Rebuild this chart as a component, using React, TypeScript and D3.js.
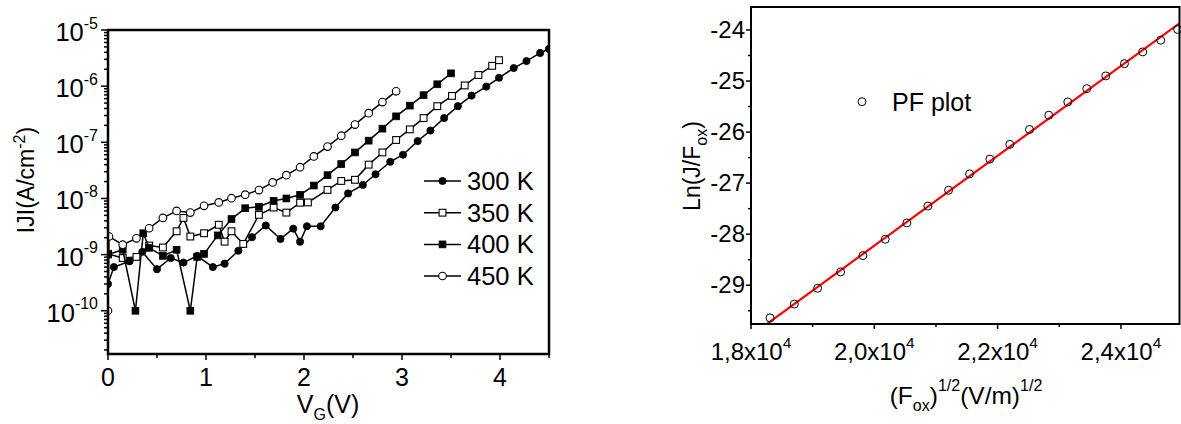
import React from 'react';
import * as d3 from 'd3';

const FONT = '"Liberation Sans", Arial, Helvetica, sans-serif';

// ---- Left panel: |J| vs V_G at four temperatures ----
const V_300 = [0.00,0.06,0.22,0.35,0.50,0.64,0.77,0.91,1.07,1.19,1.33,1.47,1.61,1.76,1.89,1.96,2.03,2.17,2.32,2.45,2.60,2.73,2.88,3.01,3.16,3.29,3.43,3.57,3.71,3.86,3.99,4.14,4.27,4.41,4.50];
const J_300 = [3.0e-10,6.0e-10,7.6e-10,1.12e-9,5.5e-10,8.7e-10,7.2e-10,9.5e-10,6.0e-10,6.9e-10,1.17e-9,2.04e-9,3.3e-9,1.9e-9,2.9e-9,1.7e-9,3.2e-9,3.2e-9,6.9e-9,1.23e-8,1.74e-8,2.7e-8,4.5e-8,6.0e-8,1.05e-7,1.62e-7,2.7e-7,4.4e-7,6.8e-7,9.8e-7,1.41e-6,2.1e-6,2.8e-6,3.9e-6,4.6e-6];

const V_350 = [0.00,0.15,0.29,0.42,0.56,0.70,0.77,0.84,0.98,1.13,1.19,1.26,1.38,1.54,1.69,1.82,1.96,2.04,2.24,2.38,2.52,2.66,2.80,2.94,3.08,3.22,3.36,3.51,3.64,3.78,3.92,3.99];
const J_350 = [1.03e-9,8.7e-10,9.1e-10,1.45e-9,1.34e-9,2.6e-9,4.5e-9,2.1e-9,2.4e-9,3.4e-9,1.7e-9,2.6e-9,1.55e-9,5.1e-9,6.9e-9,5.6e-9,8.4e-9,8.5e-9,1.42e-8,2.05e-8,2.15e-8,4.0e-8,6.6e-8,1.10e-7,1.70e-7,2.7e-7,4.4e-7,6.7e-7,1.03e-6,1.58e-6,2.3e-6,2.9e-6];

const V_400 = [0.00,0.15,0.28,0.36,0.42,0.56,0.70,0.84,0.91,0.98,1.12,1.26,1.40,1.54,1.69,1.82,1.96,2.10,2.24,2.38,2.52,2.66,2.80,2.94,3.08,3.22,3.36,3.50];
const J_400 = [1.0e-9,1.22e-9,1.0e-10,2.4e-9,1.32e-9,9.5e-10,1.22e-9,1.0e-10,9.1e-10,1.03e-9,2.2e-9,4.3e-9,6.7e-9,7.1e-9,9.1e-9,1.0e-8,1.16e-8,1.70e-8,2.6e-8,4.1e-8,6.6e-8,1.07e-7,1.75e-7,2.9e-7,4.5e-7,6.9e-7,1.08e-6,1.69e-6];

const V_450 = [0.00,0.01,0.15,0.29,0.42,0.56,0.70,0.84,0.98,1.13,1.26,1.40,1.54,1.68,1.82,1.96,2.10,2.24,2.38,2.52,2.66,2.80,2.94];
const J_450 = [1.0e-10,2.1e-9,1.5e-9,1.95e-9,2.95e-9,4.5e-9,6.0e-9,5.6e-9,7.4e-9,8.5e-9,1.01e-8,1.17e-8,1.41e-8,1.93e-8,2.6e-8,3.6e-8,5.6e-8,8.4e-8,1.31e-7,2.07e-7,3.3e-7,5.2e-7,8.1e-7];

const LEGEND_LABELS = ['300 K', '350 K', '400 K', '450 K'];
const X_TICKS_L = [0, 1, 2, 3, 4];
const X_MINOR_L = [0.5, 1.5, 2.5, 3.5, 4.5];
const Y_EXP_L = [-10, -9, -8, -7, -6, -5];

// ---- Right panel: Poole-Frenkel plot ----
const F_SQRT = [18308,18702,19081,19454,19815,20177,20528,20869,21204,21545,21874,22198,22517,22830,23138,23446,23754,24057,24353,24645,24920];
const LN_JF = [-29.64,-29.37,-29.06,-28.74,-28.42,-28.10,-27.78,-27.45,-27.14,-26.82,-26.53,-26.24,-25.95,-25.67,-25.41,-25.15,-24.90,-24.66,-24.43,-24.20,-23.99];
const FIT_X = [18200, 24960];
const FIT_Y = [-29.81, -23.86];
const X_TICKS_R = [18000, 20000, 22000, 24000];
const X_MINOR_R = [19000, 21000, 23000, 25000];
const Y_TICKS_R = [-29, -28, -27, -26, -25, -24];
const Y_MINOR_R = [-29.5, -28.5, -27.5, -26.5, -25.5, -24.5];

type Pt = [number, number];
const zip = (a: number[], b: number[]): Pt[] => a.map((v, i) => [v, b[i]] as Pt);

function Marker({ type, x, y }: { type: string; x: number; y: number }) {
  if (type === 'fcircle') return <circle cx={x} cy={y} r={3.6} fill="#000" stroke="#000" strokeWidth={0.8} />;
  if (type === 'ocircle') return <circle cx={x} cy={y} r={3.8} fill="#fff" stroke="#000" strokeWidth={1.1} />;
  if (type === 'fsquare') return <rect x={x - 3.4} y={y - 3.4} width={6.8} height={6.8} fill="#000" stroke="#000" strokeWidth={0.8} />;
  return <rect x={x - 3.4} y={y - 3.4} width={6.8} height={6.8} fill="#fff" stroke="#000" strokeWidth={1.1} />;
}

export default function App() {
  const xL = d3.scaleLinear().domain([0, 4.5]).range([108, 549]);
  const yL = d3.scaleLog().domain([Math.pow(10, -10.77), 1e-5]).range([354, 30]);
  const xR = d3.scaleLinear().domain([18000, 24950]).range([751, 1179.5]);
  const yR = d3.scaleLinear().domain([-29.76, -23.55]).range([324, 7]);

  const series = [
    { pts: zip(V_300, J_300), type: 'fcircle' },
    { pts: zip(V_350, J_350), type: 'osquare' },
    { pts: zip(V_400, J_400), type: 'fsquare' },
    { pts: zip(V_450, J_450), type: 'ocircle' },
  ];
  const lineL = d3.line<Pt>().x(d => xL(d[0])).y(d => yL(d[1]));
  const lineR = d3.line<Pt>().x(d => xR(d[0])).y(d => yR(d[1]));

  const [ly0, ly1] = yL.domain();
  const yTicksAll = yL.ticks().filter(v => v >= ly0 && v <= ly1);
  const isMajor = (v: number) => Math.abs(Math.log10(v) - Math.round(Math.log10(v))) < 1e-6;

  const L = { x0: 108, x1: 549, y0: 30, y1: 354 };
  const R = { x0: 751, x1: 1179.5, y0: 7, y1: 324 };

  const legendY = [181, 212.7, 244.4, 276];

  return (
    <svg width={1181} height={424} style={{ position: 'absolute', left: 0, top: 0, background: '#fff' }} fontFamily={FONT}>
      <defs>
        <clipPath id="clipL"><rect x={L.x0} y={L.y0} width={L.x1 - L.x0} height={L.y1 - L.y0} /></clipPath>
        <clipPath id="clipR"><rect x={R.x0} y={R.y0} width={R.x1 - R.x0} height={R.y1 - R.y0} /></clipPath>
      </defs>
      <rect x={0} y={0} width={1181} height={424} fill="#fff" />

      {/* ===== Left panel ===== */}
      <g clipPath="url(#clipL)">
        {series.map((s, si) => (
          <g key={si}>
            <path d={lineL(s.pts) || ''} fill="none" stroke="#000" strokeWidth={1.5} strokeLinejoin="miter" />
            {s.pts.map((p, i) => <Marker key={i} type={s.type} x={xL(p[0])} y={yL(p[1])} />)}
          </g>
        ))}
      </g>
      {/* legend */}
      {LEGEND_LABELS.map((lab, i) => (
        <g key={lab}>
          <line x1={424} x2={461} y1={legendY[i]} y2={legendY[i]} stroke="#000" strokeWidth={1.5} />
          <Marker type={series[i].type} x={442.5} y={legendY[i]} />
          <text x={467} y={legendY[i] + 9} fontSize={25.5} fill="#000">{lab}</text>
        </g>
      ))}
      {/* y ticks */}
      {yTicksAll.map((v, i) => {
        const y = yL(v);
        const len = isMajor(v) ? 7 : 4;
        return <line key={i} x1={L.x0 - len} x2={L.x0} y1={y} y2={y} stroke="#000" strokeWidth={1.5} />;
      })}
      {Y_EXP_L.map(e => (
        <text key={e} x={98} y={yL(Math.pow(10, e)) + 11} textAnchor="end" fontSize={25.5} fill="#000">
          10<tspan dy={-12.5} fontSize={16}>{String(e)}</tspan>
        </text>
      ))}
      {/* x ticks */}
      {X_TICKS_L.map(v => (
        <g key={v}>
          <line x1={xL(v)} x2={xL(v)} y1={L.y1} y2={L.y1 + 6} stroke="#000" strokeWidth={1.5} />
          <text x={xL(v)} y={385.5} textAnchor="middle" fontSize={25} fill="#000">{v}</text>
        </g>
      ))}
      {X_MINOR_L.map(v => (
        <line key={v} x1={xL(v)} x2={xL(v)} y1={L.y1} y2={L.y1 + 4} stroke="#000" strokeWidth={1.5} />
      ))}
      <rect x={L.x0} y={L.y0} width={L.x1 - L.x0} height={L.y1 - L.y0} fill="none" stroke="#000" strokeWidth={2.5} />
      <text x={328} y={413} textAnchor="middle" fontSize={25} fill="#000">
        V<tspan dy={7} fontSize={16}>G</tspan><tspan dy={-7}>(V)</tspan>
      </text>
      <text transform="translate(34,180) rotate(-90)" textAnchor="middle" fontSize={23} fill="#000">
        IJI(A/cm<tspan dy={-9} fontSize={16}>-2</tspan><tspan dy={9}>)</tspan>
      </text>

      {/* ===== Right panel ===== */}
      <g clipPath="url(#clipR)">
        <path d={lineR(zip(FIT_X, FIT_Y)) || ''} fill="none" stroke="#ff0000" strokeWidth={2.2} />
      </g>
      {F_SQRT.map((x, i) => (
        <circle key={i} cx={xR(x)} cy={yR(LN_JF[i])} r={4} fill="none" stroke="#000" strokeWidth={1} />
      ))}
      <circle cx={862} cy={101.7} r={4} fill="none" stroke="#000" strokeWidth={1} />
      <text x={892} y={110.5} fontSize={25} fill="#000">PF plot</text>
      {Y_TICKS_R.map(v => (
        <g key={v}>
          <line x1={R.x0 - 5} x2={R.x0} y1={yR(v)} y2={yR(v)} stroke="#000" strokeWidth={1.5} />
          <text x={745} y={yR(v) + 8} textAnchor="end" fontSize={24} fill="#000">{String(v)}</text>
        </g>
      ))}
      {Y_MINOR_R.map(v => (
        <line key={v} x1={R.x0 - 3} x2={R.x0} y1={yR(v)} y2={yR(v)} stroke="#000" strokeWidth={1.5} />
      ))}
      {X_TICKS_R.map(v => (
        <g key={v}>
          <line x1={xR(v)} x2={xR(v)} y1={R.y1} y2={R.y1 + 5} stroke="#000" strokeWidth={1.5} />
          <text x={xR(v)} y={360} textAnchor="middle" fontSize={24} fill="#000">
            {(v / 1e4).toFixed(1).replace('.', ',')}x10<tspan dy={-12} fontSize={15.5}>4</tspan>
          </text>
        </g>
      ))}
      {X_MINOR_R.map(v => (
        <line key={v} x1={xR(v)} x2={xR(v)} y1={R.y1} y2={R.y1 + 3} stroke="#000" strokeWidth={1.5} />
      ))}
      <rect x={R.x0} y={R.y0} width={R.x1 - R.x0} height={R.y1 - R.y0} fill="none" stroke="#000" strokeWidth={2} />
      <text x={966} y={403.5} textAnchor="middle" fontSize={24.5} fill="#000">
        (F<tspan dy={7} fontSize={16}>ox</tspan><tspan dy={-7}>)</tspan><tspan dy={-13} fontSize={16}>1/2</tspan><tspan dy={13}>(V/m)</tspan><tspan dy={-13} fontSize={16}>1/2</tspan>
      </text>
      <text transform="translate(700,166) rotate(-90)" textAnchor="middle" fontSize={23} fill="#000">
        Ln(J/F<tspan dy={7} fontSize={16}>ox</tspan><tspan dy={-7}>)</tspan>
      </text>
    </svg>
  );
}
